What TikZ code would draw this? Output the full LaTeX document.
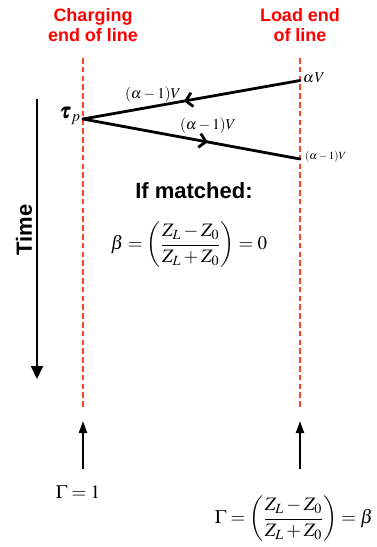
\documentclass[tikz,border=0pt]{standalone}
\usepackage{mathptmx}
\usepackage{amsmath}
\usepackage{bm}
\usepackage{fontspec}
\setsansfont{Liberation Sans}
\usetikzlibrary{arrows.meta,decorations.markings}
\definecolor{headred}{RGB}{255,0,0}
\definecolor{linered}{RGB}{255,66,36}
\tikzset{
  head/.style={font=\sffamily\bfseries\fontsize{18}{20}\selectfont, text=headred, align=center},
  bighead/.style={font=\sffamily\bfseries\fontsize{22}{24}\selectfont},
  redline/.style={draw=linered, line width=2.3pt, dash pattern=on 5.5pt off 3.3pt},
  wave/.style={line width=2.8pt, line cap=round},
  timearrow/.style={line width=2pt, -{Triangle[length=13pt,width=12pt]}},
  uparrow/.style={line width=2pt, -{Triangle[length=12pt,width=8pt]}},
  lab/.style={inner sep=0pt, font=\fontsize{15}{17}\selectfont},
  smalllab/.style={inner sep=0pt, font=\fontsize{11}{13}\selectfont},
  eqn/.style={inner sep=0pt, font=\fontsize{19}{21}\selectfont},
}
\begin{document}
\begin{tikzpicture}[x=1pt,y=-1pt]
\useasboundingbox (0,0) rectangle (376,547);
% headings
\node[head] (ch) at (93,25) {Charging\\end of line};
\node[head] (le) at (300,25) {Load end\\of line};
% dashed lines
\coordinate (LT) at (83,58);
\coordinate (LB) at (83,409);
\coordinate (RT) at (300,58);
\coordinate (RB) at (300,409);
\draw[redline] (LT) -- (LB);
\draw[redline] (RT) -- (RB);
% time arrow
\coordinate (tt) at (37,99);
\coordinate (tb) at (37,379);
\draw[timearrow] (tt) -- (tb);
\node[bighead, rotate=90] (time) at (24,230) {Time};
% waves
\coordinate (A) at (300,80.5);
\coordinate (P) at (83,119);
\coordinate (B) at (300,159);
\draw[wave, postaction={decorate}, decoration={markings,
  mark=at position 0.535 with {\arrow[line width=2.8pt]{Straight Barb[length=6.5pt,width=14pt]}}}] (A) -- (P);
\draw[wave, postaction={decorate}, decoration={markings,
  mark=at position 0.575 with {\arrow[line width=2.8pt]{Straight Barb[length=6.5pt,width=14pt]}}}] (P) -- (B);
\node[lab, anchor=west] (aV) at (303,78) {$\alpha\mkern1mu V$};
\node[lab] (l1) at (153,95) {$(\alpha-1)V$};
\node[lab] (l2) at (208,126) {$(\alpha-1)V$};
\node[smalllab, anchor=west] (l3) at (305,157) {$(\alpha-1)V$};
\node[inner sep=0pt, font=\fontsize{21}{23}\selectfont] (tau) at (70,116) {$\bm{\tau}_{p}$};
% matched
\node[bighead] (im) at (194,191) {If matched:};
\node[eqn] (beq) at (189,245) {$\beta=\left(\dfrac{Z_L-Z_0}{Z_L+Z_0}\right)=0$};
% bottom arrows
\coordinate (la) at (83,469);
\coordinate (ra) at (300,469);
\coordinate (lt) at (83,421);
\coordinate (rt) at (300,421);
\draw[uparrow] (la) -- (lt);
\draw[uparrow] (ra) -- (rt);
\node[eqn] (g1) at (78,492) {$\Gamma=1$};
\node[eqn] (g2) at (294,519) {$\Gamma=\left(\dfrac{Z_L-Z_0}{Z_L+Z_0}\right)=\beta$};
\end{tikzpicture}
\end{document}
